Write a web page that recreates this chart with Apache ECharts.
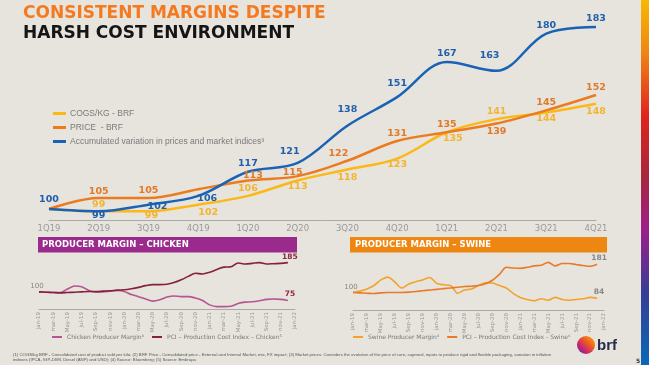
<!DOCTYPE html>
<html><head><meta charset="utf-8">
<script src="https://cdn.jsdelivr.net/npm/echarts@6/dist/echarts.min.js"></script>
<style>html,body{margin:0;padding:0;background:#e7e3dd}#c{width:649px;height:365px}</style>
</head><body><div id="c"></div>
<script>
// ---------- DATA ----------
const quarters = ['1Q19','2Q19','3Q19','4Q19','1Q20','2Q20','3Q20','4Q20','1Q21','2Q21','3Q21','4Q21'];
const cogs   = [100, 99, 99, 102, 106, 113, 118, 123, 135, 141, 144, 148];
const price  = [100, 105, 105, 109, 113, 115, 122, 131, 135, 139, 145, 152];
const market = [100, 99, 102, 106, 117, 121, 138, 151, 167, 163, 180, 183];

const months = ['jan-19','feb-19','mar-19','apr-19','May-19','jun-19','jul-19','aug-19','Sep-19','oct-19','nov-19','dec-19',
  'jan-20','feb-20','mar-20','apr-20','May-20','jun-20','jul-20','aug-20','Sep-20','oct-20','nov-20','dec-20',
  'jan-21','feb-21','mar-21','apr-21','May-21','jun-21','jul-21','aug-21','Sep-21','oct-21','nov-21','dec-21','jan-22'];
const chickenMargin = [100,99,98,98,108,117,115,104,99,100,102,104,101,92,86,79,73,77,85,88,86,86,82,75,62,57,57,58,66,70,71,74,78,79,78,75];
const chickenPCI    = [100,99,98,97,98,99,100,101,101,102,103,105,106,109,113,118,121,121,122,127,135,145,154,152,157,165,172,173,184,181,183,185,181,182,183,185];
const swineMargin   = [100,104,110,120,136,144,130,113,124,131,136,143,126,122,120,98,107,110,120,128,127,120,113,97,86,80,76,82,78,86,80,78,80,82,86,84];
const swinePCI      = [100,99,98,97,99,100,100,100,101,103,105,107,109,111,113,115,117,118,120,125,135,152,172,170,169,172,176,178,186,176,183,183,180,177,175,181];

// ---------- LABEL PLACEMENT (styling) ----------
const mkLab = {
  market: [['top',0,1],['bottom',0,-6],['bottom',9,-8],['bottom',9,-7],['top',0,2],['top',-8,-1],['top',0,-6],['top',0,-4],['top',0,2],['top',-7,-5],['top',0,2],['top',0,2]],
  price:  [null,['top',0,4],['top',0,3],null,['top',5,5],['top',-5,6],['top',-9,3],['top',0,3],['top',0,2],['bottom',0,-2],['top',0,2],['top',0,3]],
  cogs:   [null,['top',0,3],['bottom',3,-6],['bottom',10,-2],['top',0,3],['bottom',0,-4],['bottom',0,-2],['bottom',0,-4],['bottom',6,-4],['top',0,2],['bottom',0,-4],['bottom',0,-2]]
};
const FONT = 'DejaVu Sans';
function mainData(vals, specs, color) {
  return vals.map((v, i) => {
    const s = specs[i];
    if (!s) return { value: v, label: { show: false } };
    return { value: v, label: { show: true, position: s[0], offset: [s[1], s[2]], color: color,
      fontSize: 9.5, fontWeight: 'bold', fontFamily: FONT } };
  });
}
function endData(vals, first, last) {
  return vals.map((v, i) => {
    if (i === 0 && first) return { value: v, label: { show: true, position: 'top', distance: 2, offset: [-2, 0], color: first, fontSize: 7, fontFamily: FONT } };
    if (i === vals.length - 1 && last) return { value: v, label: { show: true, position: 'top', distance: 2, offset: [2, 0], color: last, fontSize: 7.5, fontWeight: 'bold', fontFamily: FONT } };
    return { value: v, label: { show: false } };
  });
}

const C_COGS = '#fbb817', C_PRICE = '#ec7b1e', C_MKT = '#1a62b6';
const C_CM = '#b55592', C_CP = '#85213f', C_SM = '#f4a22c', C_SP = '#ea7a2b';

const chart = echarts.init(document.getElementById('c'), null, { renderer: 'canvas' });

const smallX = (gi) => ({
  type: 'category', gridIndex: gi, data: months, boundaryGap: false,
  axisLine: { lineStyle: { color: '#a9a9a9', width: 1 } }, axisTick: { show: false },
  axisLabel: { interval: 1, rotate: 90, fontSize: 5.5, color: '#9a9a9a', margin: 3, fontFamily: FONT }
});
const smallY = (gi) => ({ type: 'value', gridIndex: gi, min: 50, max: 200, show: false, splitLine: { show: false } });
const lineBase = { type: 'line', smooth: 0.35, showSymbol: true, showAllSymbol: true, symbol: 'circle', symbolSize: 0.1, silent: true };

const footnote1 = '(1) COGS/kg BRF - Consolidated cost of product sold per kilo; (2) BRF Price - Consolidated price - External and Internal Market, mix, FX impact; (3) Market prices: Considers the evolution of the price of corn, soymeal, inputs to produce rigid and flexible packaging, variation in inflation';
const footnote2 = 'indexes (IPCA, IGP-DI/M, Diesel (ANP) and USD); (4) Source: Bloomberg; (5) Source: Embrapa';

chart.setOption({
  backgroundColor: '#e7e3dd',
  animation: false,
  grid: [
    { left: 49, right: 53, top: 22.6, bottom: 145 },
    { left: 39, right: 354, top: 257.5, bottom: 56 },
    { left: 353, right: 45, top: 257.5, bottom: 55 }
  ],
  legend: [
    { left: 48, top: 104, orient: 'vertical', itemWidth: 13, itemHeight: 3, itemGap: 5, icon: 'rect',
      data: ['COGS/KG - BRF', 'PRICE  - BRF', 'Accumulated variation in prices and market indices³'],
      textStyle: { fontSize: 8.5, color: '#7a7a7a', fontFamily: 'Liberation Sans', padding: [0,0,0,-1] } },
    { left: 47, top: 329, orient: 'horizontal', itemWidth: 10, itemHeight: 2, itemGap: 8, icon: 'rect',
      data: ['Chicken Producer Margin⁴', 'PCI – Production Cost Index – Chicken⁵'],
      textStyle: { fontSize: 6, color: '#7a7a7a', fontFamily: FONT } },
    { left: 348, top: 329, orient: 'horizontal', itemWidth: 10, itemHeight: 2, itemGap: 8, icon: 'rect',
      data: ['Swine Producer Margin⁴', 'PCI – Production Cost Index - Swine⁶'],
      textStyle: { fontSize: 6, color: '#7a7a7a', fontFamily: FONT } }
  ],
  xAxis: [
    { type: 'category', gridIndex: 0, data: quarters, boundaryGap: false,
      axisLine: { lineStyle: { color: '#a9a9a9', width: 1 } }, axisTick: { show: false },
      axisLabel: { fontSize: 8.5, color: '#9a9a9a', margin: 4, fontFamily: FONT } },
    smallX(1), smallX(2)
  ],
  yAxis: [
    { type: 'value', gridIndex: 0, min: 95, max: 185, show: false, splitLine: { show: false } },
    smallY(1), smallY(2)
  ],
  series: [
    Object.assign({}, lineBase, { name: 'COGS/KG - BRF', xAxisIndex: 0, yAxisIndex: 0, color: C_COGS,
      lineStyle: { width: 2.5, color: C_COGS }, itemStyle: { color: C_COGS }, data: mainData(cogs, mkLab.cogs, '#f3b430') }),
    Object.assign({}, lineBase, { name: 'PRICE  - BRF', xAxisIndex: 0, yAxisIndex: 0, color: C_PRICE,
      lineStyle: { width: 2.5, color: C_PRICE }, itemStyle: { color: C_PRICE }, data: mainData(price, mkLab.price, '#e07a2a') }),
    Object.assign({}, lineBase, { name: 'Accumulated variation in prices and market indices³', xAxisIndex: 0, yAxisIndex: 0, color: C_MKT,
      lineStyle: { width: 2.5, color: C_MKT }, itemStyle: { color: C_MKT }, data: mainData(market, mkLab.market, '#1f5fae') }),
    Object.assign({}, lineBase, { name: 'Chicken Producer Margin⁴', xAxisIndex: 1, yAxisIndex: 1, color: C_CM, smooth: 0.3,
      lineStyle: { width: 1.6, color: C_CM }, itemStyle: { color: C_CM }, data: endData(chickenMargin, null, '#8a2446') }),
    Object.assign({}, lineBase, { name: 'PCI – Production Cost Index – Chicken⁵', xAxisIndex: 1, yAxisIndex: 1, color: C_CP, smooth: 0.3,
      lineStyle: { width: 1.6, color: C_CP }, itemStyle: { color: C_CP }, data: endData(chickenPCI, '#888888', '#8a2446') }),
    Object.assign({}, lineBase, { name: 'Swine Producer Margin⁴', xAxisIndex: 2, yAxisIndex: 2, color: C_SM, smooth: 0.3,
      lineStyle: { width: 1.6, color: C_SM }, itemStyle: { color: C_SM }, data: endData(swineMargin, null, '#888888') }),
    Object.assign({}, lineBase, { name: 'PCI – Production Cost Index - Swine⁶', xAxisIndex: 2, yAxisIndex: 2, color: C_SP, smooth: 0.3,
      lineStyle: { width: 1.6, color: C_SP }, itemStyle: { color: C_SP }, data: endData(swinePCI, '#888888', '#888888') })
  ],
  graphic: [
    { type: 'text', x: 23, y: 5, style: { text: 'CONSISTENT MARGINS DESPITE', fill: '#f47a20', font: 'bold 17px "DejaVu Sans"', verticalAlign: 'top' } },
    { type: 'text', x: 23, y: 25, style: { text: 'HARSH COST ENVIRONMENT', fill: '#151515', font: 'bold 17px "DejaVu Sans"', verticalAlign: 'top' } },
    { type: 'rect', shape: { x: 38, y: 237, width: 259, height: 15.5 }, style: { fill: '#9b2a8d' } },
    { type: 'text', x: 42, y: 245, style: { text: 'PRODUCER MARGIN – CHICKEN', fill: '#ffffff', font: 'bold 8.5px "DejaVu Sans"', verticalAlign: 'middle' } },
    { type: 'rect', shape: { x: 350, y: 237, width: 257, height: 15.5 }, style: { fill: '#ee8712' } },
    { type: 'text', x: 355, y: 245, style: { text: 'PRODUCER MARGIN – SWINE', fill: '#ffffff', font: 'bold 8.5px "DejaVu Sans"', verticalAlign: 'middle' } },
    { type: 'rect', shape: { x: 641, y: 0, width: 8, height: 365 },
      style: { fill: { type: 'linear', x: 0, y: 0, x2: 0, y2: 1, colorStops: [
        { offset: 0, color: '#f8b800' }, { offset: 0.14, color: '#f08714' }, { offset: 0.32, color: '#e0231e' },
        { offset: 0.48, color: '#a8263c' }, { offset: 0.63, color: '#9c1f8a' }, { offset: 0.8, color: '#363d96' },
        { offset: 1, color: '#0a68b6' } ] } } },
    { type: 'circle', shape: { cx: 586, cy: 345, r: 9 },
      style: { fill: { type: 'linear', x: 1, y: 0, x2: 0, y2: 1, colorStops: [
        { offset: 0, color: '#f9b000' }, { offset: 0.4, color: '#ef5a24' }, { offset: 0.7, color: '#c4237a' }, { offset: 1, color: '#3a3ea0' } ] } } },
    { type: 'text', x: 597, y: 346, style: { text: 'brf', fill: '#262b4b', font: 'bold 15px "Liberation Sans"', verticalAlign: 'middle' } },
    { type: 'text', x: 636, y: 361, style: { text: '5', fill: '#333333', font: 'bold 6px "DejaVu Sans"', verticalAlign: 'middle' } },
    { type: 'text', x: 13, y: 355, style: { text: footnote1, fill: '#555555', font: '4.3px "Liberation Sans"', verticalAlign: 'middle' } },
    { type: 'text', x: 13, y: 359.5, style: { text: footnote2, fill: '#555555', font: '4.3px "Liberation Sans"', verticalAlign: 'middle' } }
  ]
});
</script>
</body></html>
